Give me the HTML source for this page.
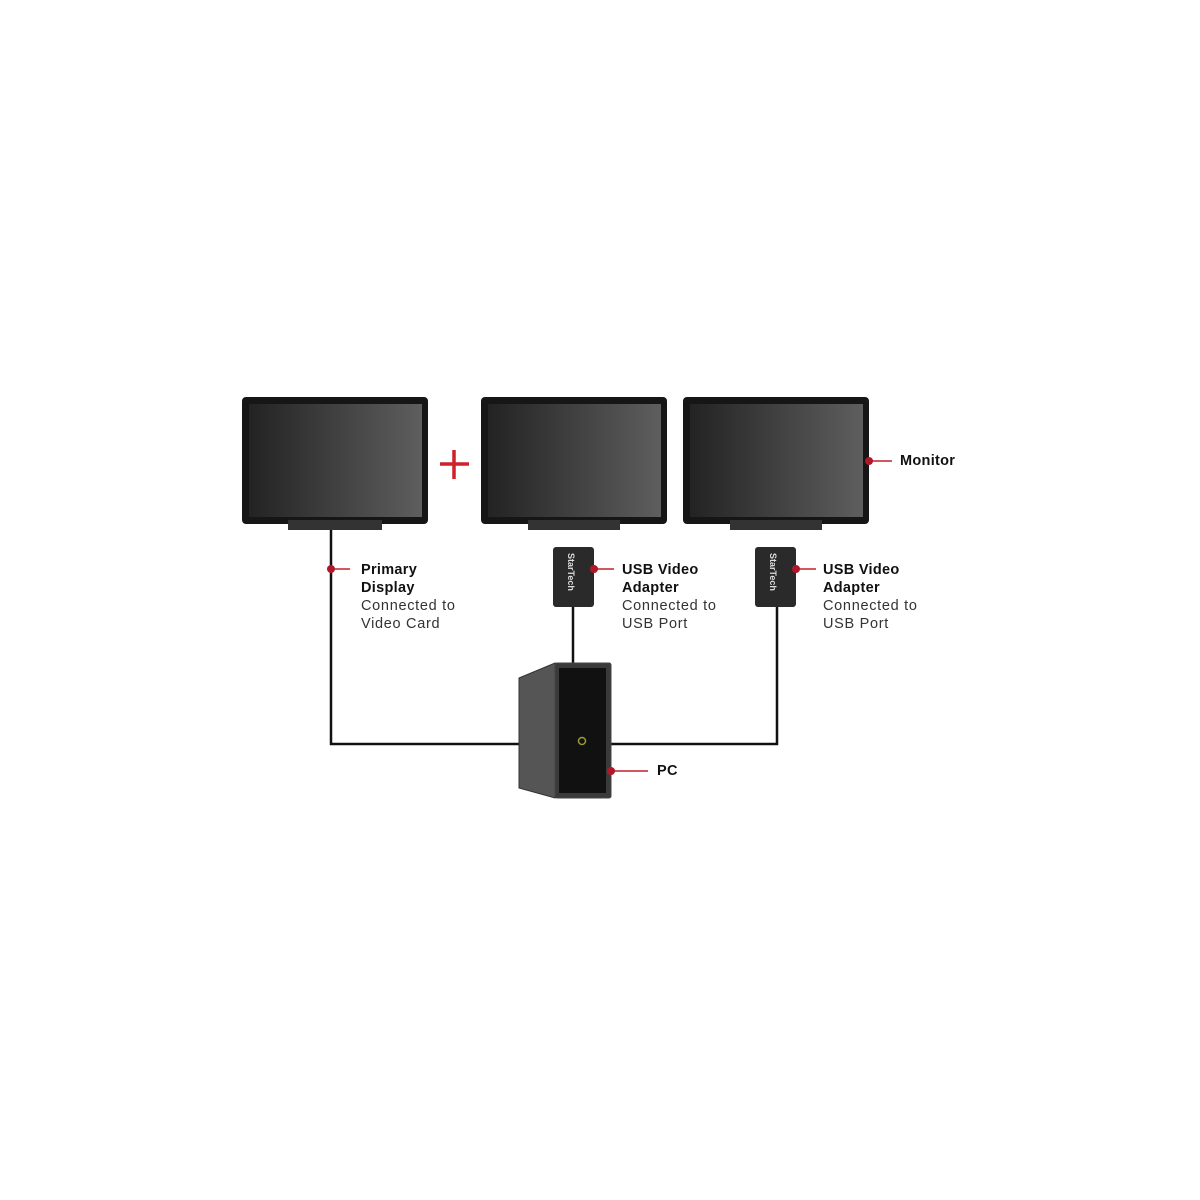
<!DOCTYPE html>
<html><head><style>
body{margin:0;width:1200px;height:1200px;background:#fff;position:relative;font-family:"Liberation Sans",sans-serif;overflow:hidden}
.t{position:absolute;font-size:14.5px;line-height:18px;color:#333;letter-spacing:0.7px}
.t b{color:#111;letter-spacing:0.3px}
</style></head><body>
<svg width="1200" height="1200" style="position:absolute;left:0;top:0">
<defs>
<linearGradient id="sc" x1="0" x2="1"><stop offset="0" stop-color="#232323"/><stop offset="1" stop-color="#5e5e5e"/></linearGradient>
</defs>
<rect x="242" y="397" width="186" height="127" rx="4" fill="#161616"/>
<rect x="249" y="404" width="173" height="113" fill="url(#sc)"/>
<rect x="288" y="520" width="94" height="10" fill="#333"/>
<rect x="481" y="397" width="186" height="127" rx="4" fill="#161616"/>
<rect x="488" y="404" width="173" height="113" fill="url(#sc)"/>
<rect x="528" y="520" width="92" height="10" fill="#333"/>
<rect x="683" y="397" width="186" height="127" rx="4" fill="#161616"/>
<rect x="690" y="404" width="173" height="113" fill="url(#sc)"/>
<rect x="730" y="520" width="92" height="10" fill="#333"/>
<path d="M440 464h29M454 450v29" stroke="#d0202a" stroke-width="3.5"/>
<g fill="none" stroke="#111" stroke-width="2.5">
<path d="M331 530V744H519"/>
<path d="M611 744H777V607"/>
<path d="M573 607V663"/>
</g>
<rect x="553" y="547" width="41" height="60" rx="3" fill="#2a2a2a"/>
<rect x="755" y="547" width="41" height="60" rx="3" fill="#2a2a2a"/>
<text x="0" y="0" transform="translate(568,553) rotate(90)" font-size="9" font-weight="bold" fill="#ddd" font-family="Liberation Sans">StarTech</text>
<text x="0" y="0" transform="translate(770,553) rotate(90)" font-size="9" font-weight="bold" fill="#ddd" font-family="Liberation Sans">StarTech</text>
<polygon points="519,678 555,663 555,798 519,788" fill="#555" stroke="#333"/>
<rect x="555" y="663" width="56" height="135" rx="2" fill="#3a3a3a" stroke="#444"/>
<rect x="559" y="668" width="47" height="125" fill="#111"/>
<circle cx="582" cy="741" r="3.5" fill="none" stroke="#9a9a30" stroke-width="1.5"/>
<g stroke="#c0202a" stroke-width="1.5">
<path d="M331 569H350M594 569H614M796 569H816M869 461H892M611 771H648"/>
</g>
<g fill="#b0182a">
<circle cx="331" cy="569" r="4"/><circle cx="594" cy="569" r="4"/><circle cx="796" cy="569" r="4"/><circle cx="869" cy="461" r="4"/><circle cx="611" cy="771" r="4"/>
</g>
</svg>
<div class="t" style="left:361px;top:561px"><b>Primary<br>Display</b><br>Connected to<br>Video Card</div>
<div class="t" style="left:622px;top:561px"><b>USB Video<br>Adapter</b><br>Connected to<br>USB Port</div>
<div class="t" style="left:823px;top:561px"><b>USB Video<br>Adapter</b><br>Connected to<br>USB Port</div>
<div class="t" style="left:900px;top:452px"><b>Monitor</b></div>
<div class="t" style="left:657px;top:762px"><b>PC</b></div>
</body></html>
